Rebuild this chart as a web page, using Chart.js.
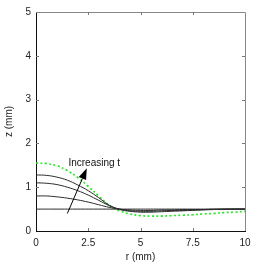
<!DOCTYPE html>
<html>
<head>
<meta charset="utf-8">
<script src="https://cdn.jsdelivr.net/npm/chart.js@4/dist/chart.umd.min.js"></script>
<style>
  html, body { margin: 0; padding: 0; background: #fff; }
  #wrap { width: 262px; height: 263px; }
</style>
</head>
<body>
<div id="wrap"><canvas id="grafica" width="262" height="263"></canvas></div>
<script>
const rVals = [0, 0.5, 1, 1.5, 2, 2.5, 3, 3.5, 4, 4.5, 5, 5.5, 6, 6.5, 7, 7.5, 8, 8.5, 9, 9.5, 10]

// green dotted curve (latest time)
const zDotted = [1.55, 1.54, 1.49, 1.38, 1.22, 1.02, 0.80, 0.59, 0.46, 0.39, 0.35, 0.34, 0.34, 0.35, 0.36, 0.37, 0.39, 0.40, 0.42, 0.43, 0.45]
// black curves
const zLine1 = [1.28, 1.27, 1.23, 1.16, 1.05, 0.92, 0.76, 0.59, 0.49, 0.45, 0.43, 0.43, 0.44, 0.45, 0.46, 0.47, 0.48, 0.49, 0.49, 0.50, 0.50]
const zLine2 = [1.10, 1.09, 1.06, 1.00, 0.92, 0.82, 0.70, 0.58, 0.50, 0.46, 0.45, 0.45, 0.46, 0.47, 0.47, 0.48, 0.49, 0.49, 0.50, 0.50, 0.50]
const zLine3 = [0.80, 0.80, 0.78, 0.75, 0.71, 0.66, 0.60, 0.54, 0.50, 0.48, 0.47, 0.47, 0.48, 0.48, 0.49, 0.49, 0.49, 0.50, 0.50, 0.50, 0.50]
const zLine4 = [0.50, 0.50, 0.50, 0.50, 0.50, 0.50, 0.50, 0.50, 0.50, 0.50, 0.50, 0.50, 0.50, 0.50, 0.50, 0.50, 0.50, 0.50, 0.50, 0.50, 0.50]

const xTicks = [0, 2.5, 5, 7.5, 10]
const yTicks = [0, 1, 2, 3, 4, 5]

// arrow annotation, in data units
const arrowFrom = [1.5, 0.4]
const arrowTo = [2.43, 1.43]
const noteText = 'Increasing t'
const notePos = [1.55, 1.55]

const graph = document.querySelector('#grafica');

function pts(arr) {
	return rVals.map((r, i) => ({ x: r, y: arr[i] }));
}

function blackLine(arr) {
	return {
		data: pts(arr),
		borderColor: '#2a2a2a',
		borderWidth: 1,
		pointRadius: 0,
		tension: 0.4,
		fill: false
	};
}

const data = {
	datasets: [
		blackLine(zLine4),
		blackLine(zLine3),
		blackLine(zLine2),
		blackLine(zLine1),
		{
			data: pts(zDotted),
			borderColor: '#1ee81e',
			borderWidth: 1.6,
			borderDash: [2, 2.4],
			pointRadius: 0,
			tension: 0.4,
			fill: false
		}
	]
};

// frame top/right + inward ticks + arrow
const extras = {
	id: 'extras',
	afterDatasetsDraw(chart) {
		const ctx = chart.ctx;
		const xs = chart.scales.x, ys = chart.scales.y;
		const a = chart.chartArea;
		ctx.save();
		ctx.lineWidth = 1;
		ctx.strokeStyle = '#888';
		ctx.beginPath();
		ctx.moveTo(a.left, a.top + 0.5);
		ctx.lineTo(a.right + 0.5, a.top + 0.5);
		ctx.lineTo(a.right + 0.5, a.bottom);
		ctx.stroke();

		ctx.strokeStyle = '#777';
		ctx.beginPath();
		xTicks.slice(1, -1).forEach(v => {
			const px = Math.round(xs.getPixelForValue(v)) + 0.5;
			ctx.moveTo(px, a.bottom); ctx.lineTo(px, a.bottom - 3);
			ctx.moveTo(px, a.top); ctx.lineTo(px, a.top + 3);
		});
		yTicks.slice(1, -1).forEach(v => {
			const py = Math.round(ys.getPixelForValue(v)) + 0.5;
			ctx.moveTo(a.left, py); ctx.lineTo(a.left + 3, py);
			ctx.moveTo(a.right, py); ctx.lineTo(a.right - 3, py);
		});
		ctx.stroke();

		// arrow
		const x0 = xs.getPixelForValue(arrowFrom[0]), y0 = ys.getPixelForValue(arrowFrom[1]);
		const x1 = xs.getPixelForValue(arrowTo[0]), y1 = ys.getPixelForValue(arrowTo[1]);
		const ang = Math.atan2(y1 - y0, x1 - x0);
		const hl = 11, hw = 4;
		ctx.strokeStyle = '#000';
		ctx.beginPath();
		ctx.moveTo(x0, y0);
		ctx.lineTo(x1 - hl * Math.cos(ang), y1 - hl * Math.sin(ang));
		ctx.stroke();
		ctx.fillStyle = '#000';
		ctx.beginPath();
		ctx.moveTo(x1, y1);
		ctx.lineTo(x1 - hl * Math.cos(ang) + hw * Math.sin(ang), y1 - hl * Math.sin(ang) - hw * Math.cos(ang));
		ctx.lineTo(x1 - hl * Math.cos(ang) - hw * Math.sin(ang), y1 - hl * Math.sin(ang) + hw * Math.cos(ang));
		ctx.closePath();
		ctx.fill();

		ctx.font = '10px "Liberation Sans", Arial, sans-serif';
		ctx.fillStyle = '#111';
		ctx.textBaseline = 'middle';
		ctx.textAlign = 'left';
		ctx.fillText(noteText, xs.getPixelForValue(notePos[0]), ys.getPixelForValue(notePos[1]));
		ctx.restore();
	}
};

const font = { family: '"Liberation Sans", Arial, sans-serif', size: 10 };

const config = {
	type: 'line',
	data: data,
	plugins: [extras],
	options: {
		responsive: false,
		animation: false,
		layout: { padding: { top: 12, right: 17, left: 0, bottom: 0 } },
		plugins: { legend: { display: false }, tooltip: { enabled: false } },
		scales: {
			x: {
				type: 'linear',
				min: 0, max: 10,
				afterBuildTicks: s => { s.ticks = xTicks.map(v => ({ value: v })); },
				afterFit: s => { s.height = 32; },
				grid: { display: false, drawTicks: false },
				border: { display: true, color: '#111', width: 1 },
				ticks: { color: '#222', font: font, padding: 6, maxRotation: 0 },
				title: { display: true, text: 'r (mm)', color: '#222', font: font, padding: { top: 0, bottom: 0 } }
			},
			y: {
				type: 'linear',
				min: 0, max: 5,
				afterBuildTicks: s => { s.ticks = yTicks.map(v => ({ value: v })); },
				afterFit: s => { s.width = 36; },
				grid: { display: false, drawTicks: false },
				border: { display: true, color: '#111', width: 1 },
				ticks: { color: '#222', font: font, padding: 5 },
				title: { display: true, text: 'z (mm)', color: '#222', font: font, padding: { top: 3, bottom: 0 } }
			}
		}
	}
};
new Chart(graph, config);
</script>
</body>
</html>
